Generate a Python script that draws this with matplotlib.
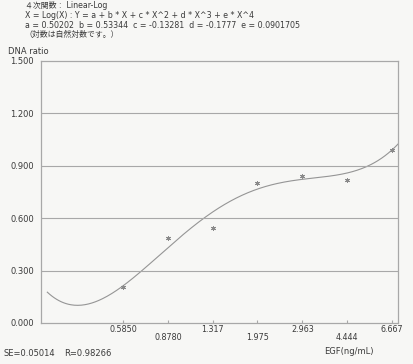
import matplotlib
matplotlib.use("Agg")
import matplotlib.pyplot as plt
import numpy as np

plt.rcParams['font.family'] = ['DejaVu Sans', 'Noto Sans CJK JP']

# data
egf = [0.5850, 0.8780, 1.317, 1.975, 2.963, 4.444, 6.667]
egf_labels = ['0.5850', '0.8780', '1.317', '1.975', '2.963', '4.444', '6.667']
dna_ratio = [0.205, 0.485, 0.542, 0.804, 0.844, 0.820, 0.992]
# fitted coefficients printed in the header (Y = a + bX + cX^2 + dX^3 + eX^4, X = ln x)
coef = [0.50202, 0.53344, -0.13281, -0.1777, 0.0901705]
curve_range = [0.295, 7.04]
y_ticks = [0.0, 0.3, 0.6, 0.9, 1.2, 1.5]

bg = '#f7f7f5'
line_c = '#a8a8a8'
text_c = '#3a3a3a'

fig = plt.figure(figsize=(4.14, 3.64), dpi=100, facecolor=bg)
ax = fig.add_axes([41/414, 1 - 323/364, (398 - 41)/414, (323 - 61)/364])
ax.set_facecolor(bg)

ax.set_xscale('log')
ax.set_xlim(0.2786, 7.04)
ax.set_ylim(0, 1.5)

# fitted curve
xs = np.geomspace(curve_range[0], curve_range[1], 300)
X = np.log(xs)
ys = sum(c * X**i for i, c in enumerate(coef))
ax.plot(xs, ys, color='#959595', lw=0.8, clip_on=False)

# measured points
ax.plot(egf, dna_ratio, ls='none', marker=(6, 2, 0), ms=3.5, mew=0.7,
        color='#8a8a8a')

# horizontal grid
for v in y_ticks[1:-1]:
    ax.axhline(v, color=line_c, lw=0.8)

for s in ax.spines.values():
    s.set_color(line_c)
    s.set_linewidth(0.9)

ax.set_yticks(y_ticks)
ax.set_yticklabels(['%.3f' % v for v in y_ticks], fontsize=6, color=text_c)
ax.tick_params(axis='y', length=0, pad=5)

ax.set_xticks(egf)
ax.minorticks_off()
ax.set_xticklabels([])
ax.tick_params(axis='x', which='both', direction='in', length=2,
               color=line_c)
for i, (xv, lab) in enumerate(zip(egf, egf_labels)):
    ax.text(xv, -0.04 if i % 2 == 0 else -0.085, lab, fontsize=5.8,
            color=text_c, ha='center', va='center')

# header text
hdr = ['４次関数 :  Linear-Log',
       'X = Log(X) : Y = a + b * X + c * X^2 + d * X^3 + e * X^4',
       'a = 0.50202  b = 0.53344  c = -0.13281  d = -0.1777  e = 0.0901705',
       '（対数は自然対数です。）']
hdr_y = [6, 16, 25, 34]
for t, yy in zip(hdr, hdr_y):
    fig.text(25/414, 1 - yy/364, t, fontsize=5.7, color=text_c,
             ha='left', va='center')

fig.text(8/414, 1 - 52/364, 'DNA ratio', fontsize=6, color=text_c,
         ha='left', va='center')
fig.text(4/414, 1 - 353/364, 'SE=0.05014', fontsize=6, color=text_c,
         ha='left', va='center')
fig.text(64/414, 1 - 353/364, 'R=0.98266', fontsize=6, color=text_c,
         ha='left', va='center')
fig.text(349/414, 1 - 352/364, 'EGF(ng/mL)', fontsize=6, color=text_c,
         ha='center', va='center')

fig.savefig('out.png', dpi=100, facecolor=bg)
